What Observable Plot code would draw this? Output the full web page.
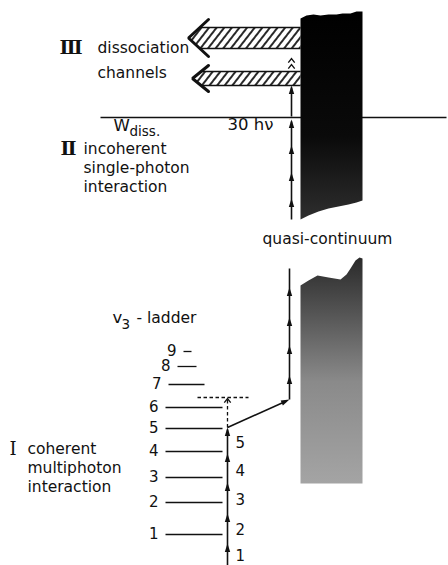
<!DOCTYPE html>
<html><head><meta charset="utf-8">
<script src="https://cdn.jsdelivr.net/npm/d3@7"></script>
<script src="https://cdn.jsdelivr.net/npm/@observablehq/plot@0.6"></script>
<style>html,body{margin:0;padding:0;background:#fff;} svg{display:block}</style>
</head><body><div id="chart"></div>
<script>
// ---- data (diagram units: x to the right, energy axis pointing down, top = 0) ----
// v3 ladder: vibrational quantum number, level energy, level line extent
const ladderLevels = [1, 2, 3, 4, 5, 6, 7, 8, 9];
const ladderEnergy = [534, 502, 477, 451, 428, 407, 384, 366, 351];
const ladderLeft   = [165, 165, 165, 165, 165, 165, 168, 177, 183];
const ladderRight  = [222, 222, 222, 222, 222, 222, 204, 196, 191];

// coherent multiphoton steps (photon number, arrow tip energy, label position)
const coherentPhotons = [1, 2, 3, 4, 5];
const coherentTips = [543, 513, 482, 453, 427];
const coherentLabelY = [556, 530, 500, 471, 443];
const coherentChainX = 227;
const coherentStart = 565;

// quasi-continuum photon steps
const qcTips = [375, 345, 317, 287];
const qcChainX = 289;
const qcChainTop = 268;

// incoherent single-photon steps up to W_diss
const incoherentTips = [198, 172, 145, 119];
const incoherentChainX = 291;
const incoherentStart = 219;
const aboveDissTips = [85];
const aboveDissStart = 116;
const doubleChevron = [58, 64];

// dissociation threshold
const wDiss = 117;
const wDissFrom = 100, wDissTo = 446;

// virtual level (dashed) above level 6
const virtualLevel = 397;
const virtualFrom = 197, virtualTo = 248;

// dissociation channel arrows
const channelTipX   = [188, 192];
const channelTop    = [27, 71];
const channelBottom = [48, 85];
const channelHeadX  = [208, 208];
const channelHeadTop = [19, 65];
const channelHeadBottom = [56, 91];
const channelEndX = 300;

// continuum outlines
const upperContinuum = [[300,18],[306,15],[313,14],[320,15],[328,14],[336,14],[342,13],[350,13],[356,11],[362,11],[362,200],[356,202],[348,204],[338,206],[328,208],[318,211],[308,215],[300,219]];
const lowerContinuum = [[300,285],[308,280],[317,275],[328,277],[340,279],[346,274],[350,268],[355,260],[359,257],[362,258],[362,483],[300,483]];

// text
const sansLabels = [
  {t: "dissociation", x: 97, y: 52},
  {t: "channels", x: 97, y: 77},
  {t: "incoherent", x: 83, y: 153},
  {t: "single-photon", x: 83, y: 172},
  {t: "interaction", x: 83, y: 191},
  {t: "quasi-continuum", x: 262, y: 243},
  {t: "- ladder", x: 136, y: 322},
  {t: "coherent", x: 27, y: 453},
  {t: "multiphoton", x: 27, y: 472},
  {t: "interaction", x: 27, y: 491}
];
const bigLabels = [
  {t: "W", x: 113, y: 130},
  {t: "30 hν", x: 227, y: 129},
  {t: "v", x: 112, y: 322}
];
const subLabels = [
  {t: "diss.", x: 129, y: 135},
  {t: "3", x: 121, y: 328}
];
const numerals = [
  {t: "Ⅲ", x: 59, y: 53, w: "bold"},
  {t: "Ⅱ", x: 60, y: 154, w: "bold"},
  {t: "Ⅰ", x: 9, y: 454, w: "normal"}
];

// ---- derived tables ----
const levels = ladderLevels.map((v, i) => ({v, y: ladderEnergy[i], x1: ladderLeft[i], x2: ladderRight[i]}));
const coherentSteps = coherentPhotons.map((n, i) => ({n, tip: coherentTips[i], ly: coherentLabelY[i]}));

const channels = channelTipX.map((tx, i) => {
  const mid = (channelTop[i] + channelBottom[i]) / 2;
  const hx = channelHeadX[i];
  const xt = tx + (hx - tx) * ((mid - channelTop[i]) / (mid - channelHeadTop[i]));
  const xb = tx + (hx - tx) * ((channelBottom[i] - mid) / (channelHeadBottom[i] - mid));
  return {
    body: [[tx, mid],[xt, channelTop[i]],[channelEndX, channelTop[i]],[channelEndX, channelBottom[i]],[xb, channelBottom[i]]].map(p => ({id: i, x: p[0], y: p[1]})),
    head: [[hx, channelHeadTop[i]],[tx, mid],[hx, channelHeadBottom[i]]].map(p => ({id: i, x: p[0], y: p[1]})),
    edges: [{x1: xt, x2: channelEndX, y: channelTop[i]}, {x1: xb, x2: channelEndX, y: channelBottom[i]}]
  };
});

const arrowHead = {draw(ctx) { ctx.moveTo(0, 0); ctx.lineTo(2.7, 8.5); ctx.lineTo(-2.7, 8.5); ctx.closePath(); }};
const chevron = {draw(ctx) { ctx.moveTo(-3.2, 4.2); ctx.lineTo(0, 0); ctx.lineTo(3.2, 4.2); }};

const diag = {x1: coherentChainX, y1: coherentTips[coherentTips.length - 1], x2: qcChainX, y2: virtualLevel + 2};
const diagAngle = Math.atan2(diag.x2 - diag.x1, diag.y1 - diag.y2) * 180 / Math.PI;

const heads = [
  ...coherentTips.map(y => ({x: coherentChainX, y, r: 0})),
  ...qcTips.map(y => ({x: qcChainX, y, r: 0})),
  ...incoherentTips.map(y => ({x: incoherentChainX, y, r: 0})),
  ...aboveDissTips.map(y => ({x: incoherentChainX, y, r: 0})),
  {x: diag.x2, y: diag.y2, r: diagAngle}
];
const chevrons = [
  ...doubleChevron.map(y => ({x: incoherentChainX, y})),
  {x: coherentChainX, y: virtualLevel + 1}
];

const lines = [
  {x1: wDissFrom, y1: wDiss, x2: wDissTo, y2: wDiss},
  {x1: coherentChainX, y1: coherentStart, x2: coherentChainX, y2: coherentTips[coherentTips.length - 1] + 2},
  {x1: qcChainX, y1: diag.y2, x2: qcChainX, y2: qcChainTop},
  {x1: incoherentChainX, y1: incoherentStart, x2: incoherentChainX, y2: incoherentTips[incoherentTips.length - 1] + 2},
  {x1: incoherentChainX, y1: aboveDissStart, x2: incoherentChainX, y2: aboveDissTips[0] + 2},
  {x1: diag.x1, y1: diag.y1, x2: diag.x2 - 3, y2: diag.y2 + 1.5}
];
const dashed = [
  {x1: virtualFrom, y1: virtualLevel, x2: virtualTo, y2: virtualLevel},
  {x1: coherentChainX, y1: coherentTips[coherentTips.length - 1], x2: coherentChainX, y2: virtualLevel + 2}
];

const FONT = "DejaVu Sans";
const FS = 15.5;
const chart = Plot.plot({
  width: 448, height: 565, margin: 0,
  x: {domain: [0, 448], range: [0, 448], axis: null},
  y: {domain: [0, 565], range: [0, 565], axis: null},
  style: {background: "white", fontFamily: FONT, color: "#111"},
  marks: [
    // hatched channel bodies
    ...channels.map(c => Plot.line(c.body, {x: "x", y: "y", curve: "linear-closed", fill: "url(#hatch)", stroke: "none"})),
    ...channels.map(c => Plot.link(c.edges, {x1: "x1", x2: "x2", y1: "y", y2: "y", stroke: "#111", strokeWidth: 1.6})),
    ...channels.map(c => Plot.line(c.head, {x: "x", y: "y", stroke: "#111", strokeWidth: 3, strokeLinejoin: "miter"})),
    // threshold line
    Plot.link(lines.slice(0, 1), {x1: "x1", y1: "y1", x2: "x2", y2: "y2", stroke: "#111", strokeWidth: 1.4}),
    // continua
    Plot.line(upperContinuum, {x: d => d[0], y: d => d[1], curve: "linear-closed", fill: "url(#darkFill)", stroke: "none"}),
    Plot.line(lowerContinuum, {x: d => d[0], y: d => d[1], curve: "linear-closed", fill: "url(#qcFill)", stroke: "none"}),
    // ladder levels
    Plot.link(levels, {x1: "x1", x2: "x2", y1: "y", y2: "y", stroke: "#111", strokeWidth: 1.3}),
    Plot.text(levels, {x: d => d.x1 - 7, y: "y", text: "v", textAnchor: "end", fontSize: 15, fill: "#111"}),
    // photon chains
    Plot.link(lines.slice(1), {x1: "x1", y1: "y1", x2: "x2", y2: "y2", stroke: "#111", strokeWidth: 1.6}),
    Plot.link(dashed, {x1: "x1", y1: "y1", x2: "x2", y2: "y2", stroke: "#111", strokeWidth: 1.3, strokeDasharray: "3.5,2.5"}),
    Plot.dot(heads, {x: "x", y: "y", rotate: "r", symbol: arrowHead, fill: "#111", stroke: "none"}),
    Plot.dot(chevrons, {x: "x", y: "y", symbol: chevron, fill: "none", stroke: "#111", strokeWidth: 1.3}),
    Plot.text(coherentSteps, {x: coherentChainX + 8, y: "ly", text: "n", textAnchor: "start", fontSize: 15, fill: "#111"}),
    // labels
    Plot.text(sansLabels, {x: "x", y: "y", text: "t", textAnchor: "start", lineAnchor: "bottom", fontSize: FS, fill: "#111"}),
    Plot.text(bigLabels, {x: "x", y: "y", text: "t", textAnchor: "start", lineAnchor: "bottom", fontSize: 16.5, fill: "#111"}),
    Plot.text(subLabels, {x: "x", y: "y", text: "t", textAnchor: "start", lineAnchor: "bottom", fontSize: 13.5, fill: "#111"}),
    Plot.text(numerals.filter(d => d.w === "bold"), {x: "x", y: "y", text: "t", textAnchor: "start", lineAnchor: "bottom", fontSize: 19, fontWeight: "bold", fontFamily: "DejaVu Serif", fill: "#111"}),
    Plot.text(numerals.filter(d => d.w !== "bold"), {x: "x", y: "y", text: "t", textAnchor: "start", lineAnchor: "bottom", fontSize: 18, fontFamily: "DejaVu Serif", fill: "#111"})
  ]
});

const svg = chart.tagName.toLowerCase() === "svg" ? chart : chart.querySelector("svg");
const NS = "http://www.w3.org/2000/svg";
const defs = document.createElementNS(NS, "defs");
defs.innerHTML = `
  <pattern id="hatch" patternUnits="userSpaceOnUse" width="6" height="6" patternTransform="rotate(38)">
    <rect width="6" height="6" fill="white"/>
    <line x1="1" y1="0" x2="1" y2="6" stroke="#111" stroke-width="1.8"/>
  </pattern>
  <linearGradient id="darkFill" x1="0" y1="0" x2="0" y2="1">
    <stop offset="0" stop-color="#000"/>
    <stop offset="0.6" stop-color="#0a0a0a"/>
    <stop offset="1" stop-color="#2e2e2e"/>
  </linearGradient>
  <linearGradient id="qcFill" x1="0" y1="0" x2="0" y2="1">
    <stop offset="0" stop-color="#2a2a2a"/>
    <stop offset="0.25" stop-color="#555"/>
    <stop offset="0.55" stop-color="#8a8a8a"/>
    <stop offset="1" stop-color="#a4a4a4"/>
  </linearGradient>`;
svg.insertBefore(defs, svg.firstChild);
document.getElementById("chart").appendChild(chart);
</script>
</body></html>
